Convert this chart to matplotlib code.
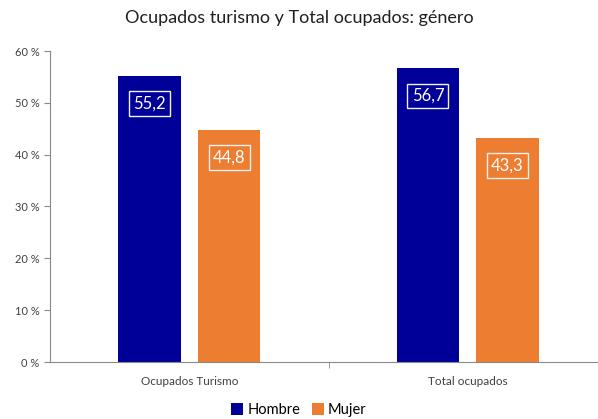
import numpy as np
import matplotlib.pyplot as plt
from matplotlib.ticker import FuncFormatter, FixedLocator

# =========================
# DATA
# =========================
categories = ["Ocupados Turismo", "Total ocupados"]
hombre = [55.2, 56.7]
mujer = [44.8, 43.3]
series_names = ["Hombre", "Mujer"]
colors = ["#000099", "#ED7D31"]

plt.rcParams['font.family'] = ['Lato', 'DejaVu Sans']

fig = plt.figure(figsize=(5.98, 4.19), dpi=100)
ax = fig.add_axes([50 / 598, 57 / 419, 557 / 598, 311 / 419])

x = np.arange(len(categories))
w = 0.225
off = 0.143

bars_h = ax.bar(x - off, hombre, w, color=colors[0], label=series_names[0])
bars_m = ax.bar(x + off, mujer, w, color=colors[1], label=series_names[1])

# data labels in white boxes
for bars, vals in [(bars_h, hombre), (bars_m, mujer)]:
    for b, v in zip(bars, vals):
        ax.annotate(f"{v:.1f}".replace(".", ","),
                    xy=(b.get_x() + b.get_width() / 2, v),
                    xytext=(0, -20), textcoords="offset points",
                    ha="center", va="center", color="white", fontsize=12,
                    bbox=dict(boxstyle="square,pad=0.25", fc="none",
                              ec="#f2f2f2", lw=1))

# =========================
# AXES
# =========================
ax.set_xlim(-0.5, 1.5)
ax.set_ylim(0, 60)
ax.set_yticks(np.arange(0, 61, 10))
ax.yaxis.set_major_formatter(FuncFormatter(lambda v, p: f"{int(v)} %"))
ax.set_xticks(x)
ax.set_xticklabels(categories)
ax.xaxis.set_minor_locator(FixedLocator([0.5]))
ax.tick_params(axis="x", which="major", length=0, pad=10, labelsize=8.5, colors="#404040")
ax.tick_params(axis="x", which="minor", length=4, color="#898989")
ax.tick_params(axis="y", length=4, color="#898989", labelsize=8, labelcolor="#404040")

for s in ["top", "right"]:
    ax.spines[s].set_visible(False)
for s in ["left", "bottom"]:
    ax.spines[s].set_color("#898989")

fig.text(0.5, 1 - 18 / 419, "Ocupados turismo y Total ocupados: género",
         ha="center", va="center", fontsize=13, color="#202020")

fig.legend(handles=[bars_h, bars_m], labels=series_names, loc="center",
           bbox_to_anchor=(0.5, 9 / 419), ncol=2, frameon=False,
           fontsize=10.5, handlelength=0.8, handleheight=0.8,
           handletextpad=0.3, columnspacing=0.8)

fig.savefig("out.png", dpi=100)
